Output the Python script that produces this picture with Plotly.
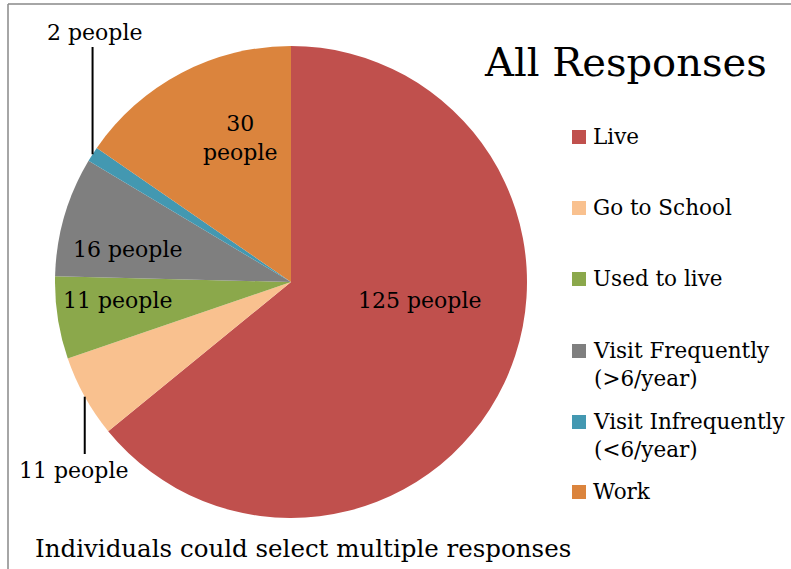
import math
import plotly.graph_objects as go

# ---- data ----
categories = ["Live", "Go to School", "Used to live", "Visit Frequently (>6/year)",
              "Visit Infrequently (<6/year)", "Work"]
legend_text = ["Live", "Go to School", "Used to live", "Visit Frequently<br>(>6/year)",
               "Visit Infrequently<br>(<6/year)", "Work"]
people = [125, 11, 11, 16, 2, 30]
colors = ["#C0504D", "#F9C18F", "#8BA84B", "#7F7F7F", "#4398B1", "#DB843D"]

W, H = 791, 569
FONT = "DejaVu Serif"

# pie geometry in pixels
CX, CY, R = 291, 282, 236


def px(x):
    return x / W


def py(y):
    return 1 - y / H


fig = go.Figure()
fig.add_trace(go.Pie(
    labels=categories,
    values=people,
    sort=False,
    direction="clockwise",
    rotation=0,
    marker=dict(colors=colors, line=dict(width=0)),
    textinfo="none",
    hoverinfo="label+value",
    domain=dict(x=[px(CX - R), px(CX + R)], y=[py(CY + R), py(CY - R)]),
    showlegend=False,
))

annotations = []
shapes = []

# data labels
total = sum(people)
label_pos = {
    0: (419, 300),
    2: (118, 300),
    3: (127, 249),
    5: (240, 138),
}
for i, (x, y) in label_pos.items():
    txt = f"{people[i]} people" if i != 5 else f"{people[i]}<br>people"
    annotations.append(dict(x=px(x), y=py(y), xref="paper", yref="paper", text=txt,
                            showarrow=False, font=dict(family=FONT, size=22, color="black"),
                            xanchor="center", yanchor="middle"))

# outside labels with leader lines, anchored at slice mid-angle on the rim
outside = {1: (470, 454, -11), 4: (32, 47, 2)}
cum = 0
mids = []
for v in people:
    mids.append((cum + v / 2) / total * 2 * math.pi)
    cum += v
for i, (ly, lend, dx) in outside.items():
    a = mids[i]
    ex = CX + R * math.sin(a)
    ey = CY - R * math.cos(a)
    shapes.append(dict(type="line", xref="paper", yref="paper",
                       x0=px(ex), y0=py(ey), x1=px(ex), y1=py(lend),
                       line=dict(color="black", width=2)))
    annotations.append(dict(x=px(ex + dx), y=py(ly), xref="paper", yref="paper",
                            text=f"{people[i]} people", showarrow=False,
                            font=dict(family=FONT, size=22, color="black"),
                            xanchor="center", yanchor="middle"))

# title
annotations.append(dict(x=px(625), y=py(62), xref="paper", yref="paper", text="All Responses",
                        showarrow=False, font=dict(family=FONT, size=40, color="black"),
                        xanchor="center", yanchor="middle"))
# footnote
annotations.append(dict(x=px(33), y=py(548), xref="paper", yref="paper",
                        text="Individuals could select multiple responses",
                        showarrow=False, font=dict(family=FONT, size=24.5, color="black"),
                        xanchor="left", yanchor="middle"))

# legend (manual, to match spacing)
leg_y = [137, 208, 279, 351, 422, 492]
for t, c, y in zip(legend_text, colors, leg_y):
    shapes.append(dict(type="rect", xref="paper", yref="paper",
                       x0=px(572), x1=px(586), y0=py(y - 7), y1=py(y + 7),
                       fillcolor=c, line=dict(width=0)))
    annotations.append(dict(x=px(591), y=py(y - 15), xref="paper", yref="paper", text=t,
                            showarrow=False, font=dict(family=FONT, size=21.5, color="black"),
                            xanchor="left", yanchor="top", align="left"))

# chart border (left and top visible)
shapes.append(dict(type="line", xref="paper", yref="paper", x0=px(8), x1=px(8), y0=0, y1=py(4),
                   line=dict(color="#898989", width=1.5)))
shapes.append(dict(type="line", xref="paper", yref="paper", x0=px(8), x1=1, y0=py(4), y1=py(4),
                   line=dict(color="#898989", width=1.5)))

fig.update_layout(
    width=W, height=H,
    margin=dict(l=0, r=0, t=0, b=0),
    paper_bgcolor="white", plot_bgcolor="white",
    annotations=annotations, shapes=shapes,
    font=dict(family=FONT),
)

fig.write_html("out.html", config={"displayModeBar": False},
               post_script="document.body.style.margin='0';document.body.style.overflow='hidden';")
